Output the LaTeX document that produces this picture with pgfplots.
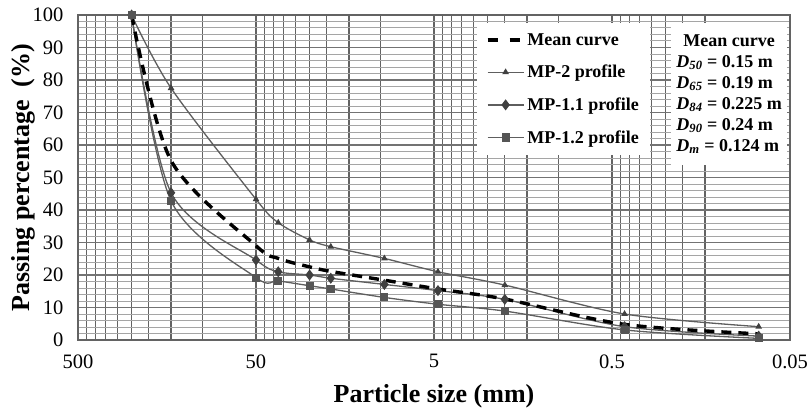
\documentclass[border=0pt]{standalone}
\usepackage{fontspec}
\setmainfont{Liberation Serif}
\usepackage{pgfplots}
\pgfplotsset{compat=1.18}
\usetikzlibrary{calc}

\definecolor{vgrid}{HTML}{636363}
\definecolor{hmajor}{HTML}{737373}
\definecolor{hminor}{HTML}{A5A5A5}
\definecolor{prof}{HTML}{5E5E5E}
\definecolor{mkdark}{HTML}{404040}
\definecolor{mksq}{HTML}{555555}

\pgfplotsset{
  profile/.style={prof, line width=1.3pt, smooth},
  meanline/.style={black, line width=3.4pt, dash pattern=on 10pt off 7pt, smooth},
}

\begin{document}
\begin{tikzpicture}
\begin{axis}[
  scale only axis, width=712pt, height=325pt,
  xmode=log, x dir=reverse,
  xmin=0.05, xmax=500, ymin=0, ymax=100,
  xtick={500,50,5,0.5,0.05},
  xticklabels={500,50,5,0.5,0.05},
  minor xtick={450,400,350,300,250,200,150,100,
               45,40,35,30,25,20,15,10,
               4.5,4,3.5,3,2.5,2,1.5,1,
               0.45,0.4,0.35,0.3,0.25,0.2,0.15},
  ytick={0,10,...,100}, minor y tick num=4,
  grid=both,
  major x grid style={draw=vgrid, line width=1.25pt},
  minor x grid style={draw=vgrid, line width=1.25pt},
  major y grid style={draw=hmajor, line width=1.2pt},
  minor y grid style={draw=hminor, line width=1pt},
  major tick length=0pt, minor tick length=0pt,
  axis line style={draw=vgrid, line width=1.25pt},
  /pgf/number format/assume math mode=true,
  ticklabel style={font=\fontsize{20.5}{24}\selectfont},
  xticklabel style={yshift=-11pt},
  yticklabel style={xshift=-11pt},
  xlabel={Particle size (mm)},
  ylabel={Passing percentage\enspace(\%)},
  label style={font=\bfseries\fontsize{26}{30}\selectfont},
  xlabel style={at={(axis description cs:0.5,-0.1908)}, anchor=base},
  ylabel style={at={(axis description cs:-0.0688,0.5)}, anchor=base},
  legend style={at={(axis description cs:0.560,0.975)}, anchor=north west,
    draw=none, fill=white, inner xsep=9pt, inner ysep=8pt, row sep=14.5pt,
    font=\bfseries\fontsize{18}{21}\selectfont},
  legend cell align=left,
  legend image code/.code={%
    \draw[mark repeat=2,mark phase=2,#1] plot coordinates {(0pt,0pt) (18pt,0pt) (36pt,0pt)};},
]
\coordinate (bl) at (axis description cs:0,0);
\coordinate (tr) at (axis description cs:1,1);

\addlegendimage{black, line width=3.4pt, dash pattern=on 10pt off 12pt}
\addlegendentry{Mean curve}

\addplot[profile, mark=triangle*, mark size=2.6pt, mark options={fill=mkdark, draw=mkdark, solid}]
coordinates {(250,100) (150,77.5) (50,43.3) (37.5,36.1) (25,30.8) (19,28.7) (9.5,25.1) (4.75,21.0) (2,16.9) (0.425,8.0) (0.075,4.1)};
\addlegendentry{MP-2 profile}

\addplot[profile, mark=diamond*, mark size=4.5pt, mark options={fill=mkdark, draw=mkdark, solid}]
coordinates {(250,100) (150,45.3) (50,24.6) (37.5,21.0) (25,20.0) (19,19.0) (9.5,17.1) (4.75,15.2) (2,12.5) (0.425,4.1) (0.075,1.2)};
\addlegendentry{MP-1.1 profile}

\addplot[profile, mark=square*, mark size=3.4pt, mark options={fill=mksq, draw=mksq, solid}]
coordinates {(250,100) (150,42.8) (50,19.2) (37.5,18.2) (25,16.7) (19,15.7) (9.5,13.1) (4.75,11.0) (2,8.9) (0.425,3.1) (0.075,0.5)};
\addlegendentry{MP-1.2 profile}

\addplot[meanline, forget plot]
coordinates {(250,100) (150,55.2) (50,29.0) (37.5,25.1) (25,22.5) (19,21.1) (9.5,18.4) (4.75,15.7) (2,12.6) (0.425,4.8) (0.075,1.9)};

\node[fill=white, anchor=north east, inner xsep=5pt, inner ysep=8pt,
      font=\bfseries\fontsize{18}{21}\selectfont]
  at (axis description cs:0.9958,0.975) {%
  \begin{tabular}{@{}l@{}}
  \multicolumn{1}{@{}c@{}}{Mean curve}\\
  \textit{D}\textsubscript{\textit{50}} = 0.15 m\\
  \textit{D}\textsubscript{\textit{65}} = 0.19 m\\
  \textit{D}\textsubscript{\textit{84}} = 0.225 m\\
  \textit{D}\textsubscript{\textit{90}} = 0.24 m\\
  \textit{D}\textsubscript{\textit{m}} = 0.124 m
  \end{tabular}};
\end{axis}
\pgfresetboundingbox
\path[use as bounding box] ($(bl)+(-78pt,-70pt)$) rectangle ($(tr)+(19pt,15pt)$);
\end{tikzpicture}
\end{document}
